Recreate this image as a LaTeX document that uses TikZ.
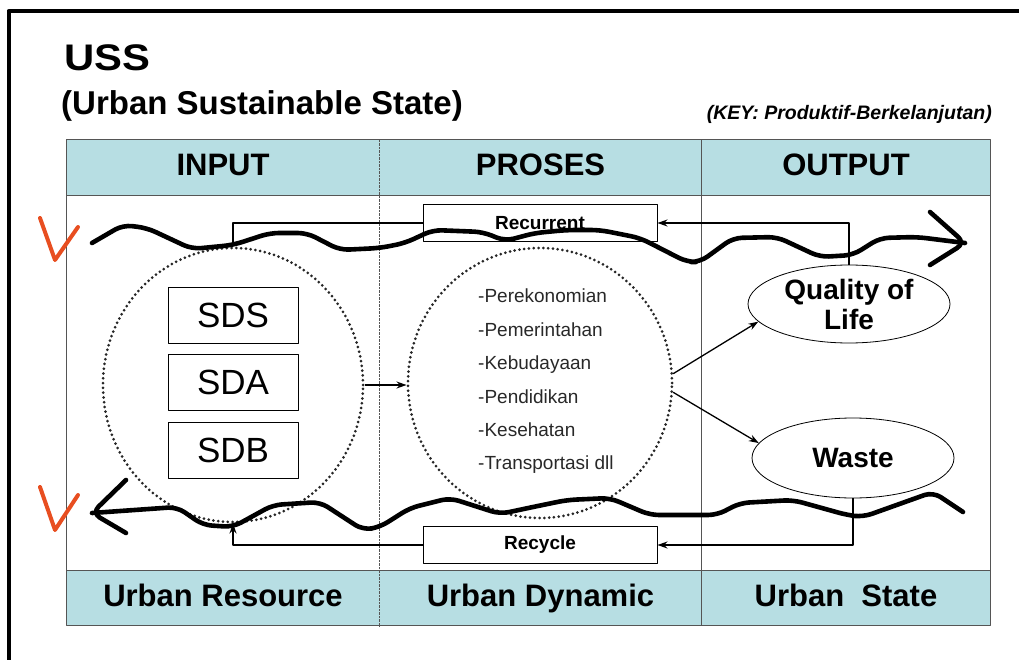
\documentclass[tikz,border=0pt]{standalone}
\usepackage{fontspec}
\setmainfont{Liberation Sans}
\usepackage{tikz}
\usetikzlibrary{shapes.geometric,arrows.meta}

\definecolor{bandblue}{RGB}{183,222,227}
\definecolor{gridgray}{RGB}{85,85,85}
\definecolor{markred}{RGB}{232,78,32}
\definecolor{listgray}{RGB}{40,40,40}

\begin{document}
\begin{tikzpicture}[x=1pt, y=-1pt, >={Stealth[length=10pt,width=7pt]}, line join=round,
		band/.style={fill=bandblue, inner sep=0pt, minimum height=55pt, text height=22pt, text depth=6pt, font=\fontsize{31}{31}\selectfont\bfseries},
		sdbox/.style={draw, line width=1pt, inner sep=0pt, minimum width=130pt, minimum height=56pt, font=\fontsize{35}{35}\selectfont},
		loopbox/.style={draw, line width=1pt, inner sep=0pt, minimum width=234pt, minimum height=37pt, font=\fontsize{19}{19}\selectfont\bfseries},
		blob/.style={ellipse, draw, line width=0.8pt, inner sep=0pt, align=center, font=\fontsize{28}{30}\selectfont\bfseries},
		area/.style={ellipse, draw=black!85, line width=3pt, dash pattern=on 0pt off 4.8pt, line cap=round, inner sep=0pt},
		wave/.style={line width=4.6pt, line cap=round, line join=round, rounded corners=9pt},
		redmark/.style={markred, line width=4pt, line cap=round},
		link/.style={->, line width=1.3pt}]
		\useasboundingbox (0,0) rectangle (1019,660);
		% outer frame (cut at the right and bottom)
		\draw[line width=4pt] (8.5,680) -- (8.5,11) -- (1040,11);
		% ---------------- titles ----------------
		\node[anchor=base west, inner sep=0pt, font=\fontsize{37}{37}\selectfont\bfseries] (uss) at (64,71) {\scalebox{1.13}[1]{USS}};
		\node[anchor=base west, inner sep=0pt, font=\fontsize{33}{33}\selectfont\bfseries] (ussname) at (61,115) {(Urban Sustainable State)};
		\node[anchor=base east, inner sep=0pt, font=\fontsize{19.5}{19.5}\selectfont\bfseries\itshape] (key) at (992,120) {(KEY: Produktif-Berkelanjutan)};
		% ---------------- table bands ----------------
		\node[band, minimum width=312pt] (hin) at (223,167.5) {INPUT};
		\node[band, minimum width=323pt] (hpro) at (540.5,167.5) {PROSES};
		\node[band, minimum width=288pt] (hout) at (846,167.5) {OUTPUT};
		\node[band, minimum width=312pt] (fin) at (223,598) {Urban Resource};
		\node[band, minimum width=323pt] (fpro) at (540.5,598) {Urban Dynamic};
		\node[band, minimum width=288pt] (fout) at (846,598) {Urban~~State};
		\draw[gridgray, line width=1pt] (hin.north west) rectangle (fout.south east);
		\draw[gridgray, line width=1pt] (hin.south west) -- (hout.south east)
			(fin.north west) -- (fout.north east)
			(hout.north west) -- (fout.south west);
		\draw[gridgray, densely dotted] (hpro.north west) -- (fpro.south west);
		% ---------------- input: resources ----------------
		\node[area, minimum width=260pt, minimum height=274pt] (res) at (233,385) {};
		\node[sdbox] (sds) at (233,315.5) {SDS};
		\node[sdbox] (sda) at (233,382) {SDA};
		\node[sdbox] (sdb) at (233,450) {SDB};
		% ---------------- process: urban dynamic ----------------
		\node[area, minimum width=264pt, minimum height=270pt] (dyn) at (540,383) {};
		\node[anchor=north west, inner sep=0pt, align=left, text=listgray, font=\fontsize{19}{33.4}\selectfont] (sectors) at (478,289)
			{-Perekonomian\\-Pemerintahan\\-Kebudayaan\\-Pendidikan\\-Kesehatan\\-Transportasi dll};
		% ---------------- output ----------------
		\node[blob, minimum width=202pt, minimum height=78pt] (qol) at (849,304) {Quality of\\Life};
		\node[blob, minimum width=202pt, minimum height=80pt] (waste) at (853,458) {Waste};
		% feedback boxes
		\node[loopbox] (recur) at (540,223) {Recurrent};
		\node[loopbox] (recyc) at (540,545) {Recycle};
		% ---------------- flow lines ----------------
		\draw[wave] (92,243) -- (123,225) -- (147,228) -- (192,249) -- (233,245) -- (270,233) -- (307,233) -- (340,250) -- (380,248) -- (405,243) -- (433,230) -- (483,232) -- (505,241) -- (535,233) -- (567,230) -- (600,230) -- (640,238) -- (687,262) -- (700,262) -- (733,238) -- (777,237) -- (820,257) -- (853,255) -- (880,238) -- (917,237) -- (965,243);
		\draw[wave] (930,212) -- (965,243) -- (930,265);
		\draw[wave] (92,513) -- (177,507) -- (203,525) -- (233,527) -- (273,505) -- (320,502) -- (363,530) -- (380,527) -- (410,508) -- (450,498) -- (500,514) -- (533,507) -- (567,500) -- (610,498) -- (650,515) -- (717,515) -- (740,503) -- (793,500) -- (847,515) -- (863,517) -- (933,492) -- (963,512);
		\draw[wave] (126,480) -- (92,513) -- (126,533);
		% ticks
		\draw[redmark] (40,218) -- (55,260) -- (78,227);
		\draw[redmark] (40,487) -- (55,530) -- (78,495);
		% ---------------- connectors ----------------
		\draw[link] (res.east) -- (res.east -| dyn.west);
		\draw[link] (dyn.4) -- (qol.191);
		\draw[link] (dyn.-4) -- (waste.171);
		\draw[link] (qol.north) |- (recur.east);
		\draw[line width=1.3pt] (recur.west) -| (res.north);
		\draw[link] (waste.south) |- (recyc.east);
		\draw[link] (recyc.west) -| (res.south);
\end{tikzpicture}
\end{document}
